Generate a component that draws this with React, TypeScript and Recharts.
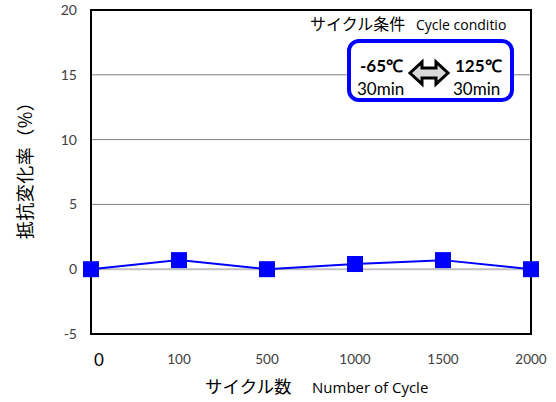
import { LineChart, Line, XAxis, YAxis, CartesianGrid, ReferenceLine, ReferenceArea } from "recharts";

const cycles = ["0", "100", "500", "1000", "1500", "2000"];
const changeRate = [0, 0.7, 0, 0.4, 0.7, 0];
const yTicks = [-5, 0, 5, 10, 15, 20];

const data = cycles.map((c, i) => ({ cycle: c, value: changeRate[i] }));

const NUM_FONT = "Lato, 'Liberation Sans', sans-serif";
const TXT_FONT = "'Open Sans', sans-serif";
const JP_FONT = "'Noto Sans CJK JP', sans-serif";

function XTick(props: any) {
  const { x, y, payload } = props;
  if (payload.value === "0") {
    return (
      <text x={x + 8} y={y + 24} textAnchor="middle" fontSize={17} fontFamily={NUM_FONT} fill="#000">
        {payload.value}
      </text>
    );
  }
  return (
    <text x={x} y={y + 22} textAnchor="middle" fontSize={13.5} fontFamily={NUM_FONT} fill="#404040">
      {payload.value}
    </text>
  );
}

function Square(props: any) {
  const { cx, cy } = props;
  return <rect x={cx - 8} y={cy - 8} width={16} height={16} fill="#0000ff" />;
}

export default function App() {
  return (
    <div style={{ position: "absolute", left: 0, top: 0, width: 556, height: 402, background: "#fff" }}>
      <LineChart width={556} height={402} data={data} margin={{ top: 10, right: 25, bottom: 8, left: 0 }}>
        <CartesianGrid vertical={false} horizontalValues={[5, 10, 15]} stroke="#808080" strokeWidth={1} />
        <ReferenceLine y={0} stroke="#c0c0c0" strokeWidth={2} />
        <XAxis dataKey="cycle" height={60} axisLine={false} tickLine={false} tick={<XTick />} interval={0} />
        <YAxis
          width={91}
          domain={[-5, 20]}
          ticks={yTicks}
          axisLine={false}
          tickLine={false}
          tick={{ fontSize: 14, fill: "#404040", fontFamily: NUM_FONT, dx: -6 }}
        />
        <ReferenceArea x1="0" x2="2000" y1={-5} y2={20} fill="none" stroke="#000" strokeWidth={2} ifOverflow="visible" />
        <Line
          dataKey="value"
          stroke="#0000ff"
          strokeWidth={2}
          dot={<Square />}
          activeDot={false}
          isAnimationActive={false}
        />
      </LineChart>
      <svg width={556} height={402} style={{ position: "absolute", left: 0, top: 0, pointerEvents: "none" }}>
        <text x={24} y={166} transform="rotate(-90 24 166)" textAnchor="middle" dominantBaseline="central" fontSize={18} letterSpacing={0.5} fontFamily={JP_FONT} fill="#000">
          抵抗変化率（%）
        </text>
        <text x={205} y={393} fontSize={17.5} fontFamily={JP_FONT} fill="#000">
          サイクル数
        </text>
        <text x={312} y={393} fontSize={15} fontFamily={TXT_FONT} fill="#000">
          Number of Cycle
        </text>
        <text x={310} y={30} fontSize={16} fontFamily={JP_FONT} fill="#000">
          サイクル条件
        </text>
        <text x={416} y={30} fontSize={14} fontFamily={TXT_FONT} fill="#000">
          Cycle conditio
        </text>
        <rect x={349} y={41} width={163} height={59} rx={10} ry={10} fill="#fff" stroke="#0000ff" strokeWidth={4} />
        <text x={360} y={72} fontSize={17} fontWeight="bold" fontFamily={NUM_FONT} fill="#000">
          -65℃
        </text>
        <text x={455} y={72} fontSize={17} fontWeight="bold" fontFamily={NUM_FONT} fill="#000">
          125℃
        </text>
        <text x={357} y={95} fontSize={17} fontFamily={NUM_FONT} fill="#000">
          30min
        </text>
        <text x={453} y={95} fontSize={17} fontFamily={NUM_FONT} fill="#000">
          30min
        </text>
        <path
          d="M410 73 L422 62 L422 68 L436 68 L436 62 L448 73 L436 84 L436 78 L422 78 L422 84 Z"
          fill="#d9d9d9"
          stroke="#000"
          strokeWidth={3}
          strokeLinejoin="miter"
        />
      </svg>
    </div>
  );
}
